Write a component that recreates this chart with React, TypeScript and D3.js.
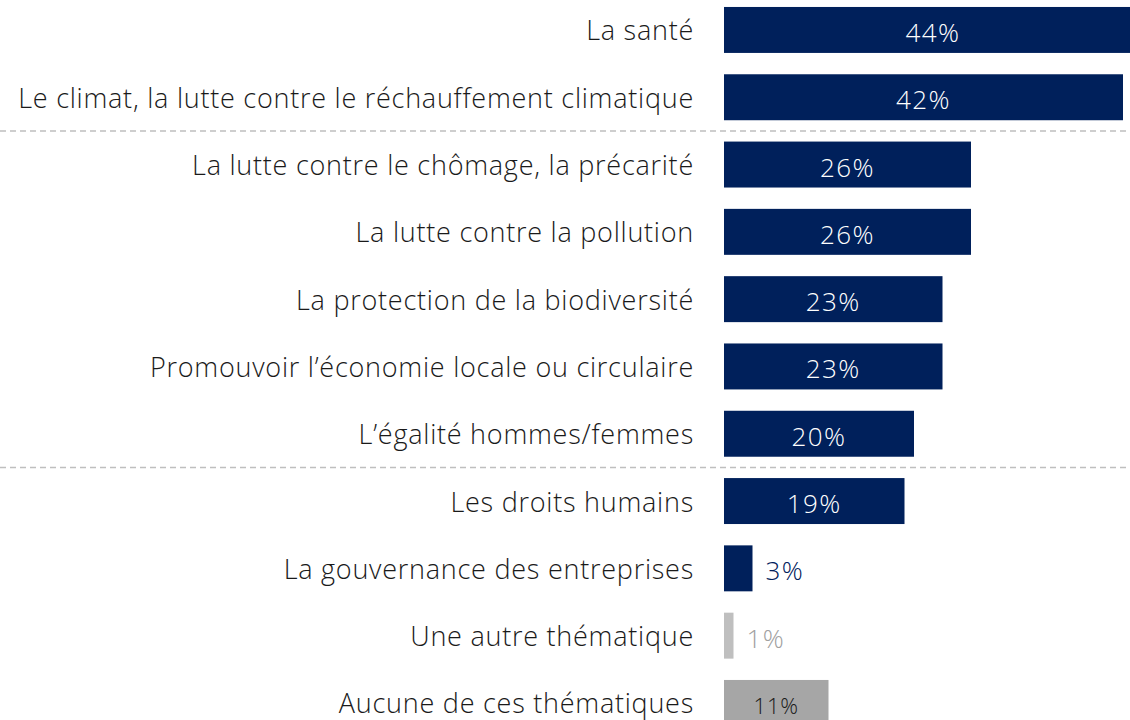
import React from 'react';
import * as d3 from 'd3';

// themes, top to bottom
const categories = [
  'La santé',
  'Le climat, la lutte contre le réchauffement climatique',
  'La lutte contre le chômage, la précarité',
  'La lutte contre la pollution',
  'La protection de la biodiversité',
  'Promouvoir l’économie locale ou circulaire',
  'L’égalité hommes/femmes',
  'Les droits humains',
  'La gouvernance des entreprises',
  'Une autre thématique',
  'Aucune de ces thématiques',
];
const values = [44, 42, 26, 26, 23, 23, 20, 19, 3, 1, 11];
// rows after which a dashed separator is drawn
const breaksAfter = [1, 6];

const W = 1130;
const H = 720;
const NAVY = '#00205B';

const barFill = (i: number) => (i === 9 ? '#BFBFBF' : i === 10 ? '#A6A6A6' : NAVY);

export default function App() {
  const x = d3.scaleLinear().domain([0, 42]).range([724, 1123]);
  const step = 67.3;
  const y = d3
    .scaleBand<string>()
    .domain(categories)
    .range([-3.7, -3.7 + step * categories.length])
    .paddingInner(0.317)
    .paddingOuter(0.1585);
  const bw = y.bandwidth();

  return (
    <svg
      width={W}
      height={H}
      style={{ position: 'absolute', left: 0, top: 0, display: 'block', overflow: 'hidden' }}
      fontFamily="'Open Sans', Lato, sans-serif"
    >
      {categories.map((c, i) => {
        const v = values[i];
        const y0 = y(c)!;
        const cy = y0 + bw / 2;
        const inside = v >= 10;
        const w = x(v) - x(0);
        let labelFill = '#ffffff';
        if (i === 8) labelFill = NAVY;
        if (i === 9) labelFill = '#A0A0A0';
        if (i === 10) labelFill = '#1a1a1a';
        return (
          <g key={c}>
            <text
              x={694}
              y={cy}
              textAnchor="end"
              dominantBaseline="central"
              fontSize={27}
              fontWeight={300}
              letterSpacing={0.75}
              fill="#1a1a1a"
            >
              {c}
            </text>
            <rect x={x(0)} y={y0} width={w} height={bw} fill={barFill(i)} />
            <text
              x={inside ? x(0) + w / 2 : x(v) + 13}
              y={cy + 2}
              textAnchor={inside ? 'middle' : 'start'}
              dominantBaseline="central"
              fontSize={i === 10 ? 22 : 26}
              fontWeight={300}
              letterSpacing={i === 10 ? 0.8 : 1.5}
              fill={labelFill}
            >
              {v + '%'}
            </text>
          </g>
        );
      })}
      {breaksAfter.map((b) => {
        const yy = (y(categories[b])! + bw + y(categories[b + 1])!) / 2;
        return (
          <line
            key={b}
            x1={0}
            x2={W}
            y1={yy}
            y2={yy}
            stroke="#BFBFBF"
            strokeWidth={1.5}
            strokeDasharray="6,4"
          />
        );
      })}
    </svg>
  );
}
